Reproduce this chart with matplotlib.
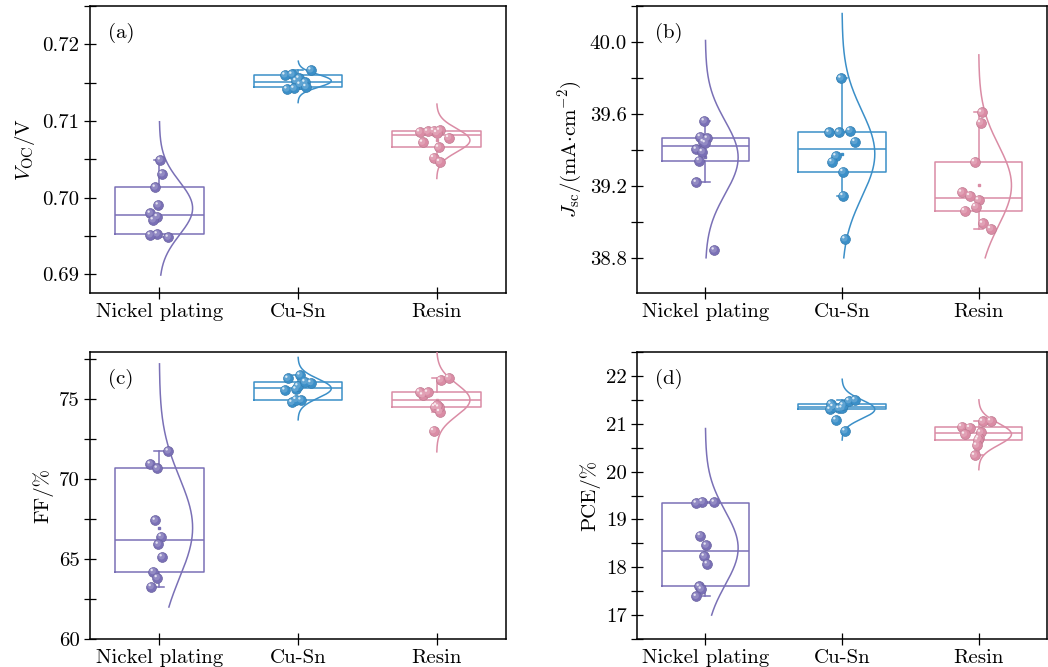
import numpy as np
import matplotlib
matplotlib.use('Agg')
import matplotlib.pyplot as plt
from matplotlib.ticker import MultipleLocator, FormatStrFormatter
from matplotlib.transforms import ScaledTranslation
import matplotlib.colors as mcolors

plt.rcParams['font.family'] = 'serif'
plt.rcParams['font.serif'] = ['cmr10', 'DejaVu Serif']
plt.rcParams['mathtext.fontset'] = 'cm'
plt.rcParams['axes.formatter.use_mathtext'] = True
plt.rcParams['axes.unicode_minus'] = False

# ---------------- data ----------------
categories = ['Nickel plating', 'Cu-Sn', 'Resin']

voc_nickel = [0.70491, 0.70309, 0.70135, 0.69904, 0.69796, 0.69752, 0.69709, 0.69526, 0.69513, 0.69483]
voc_cusn = [0.71665, 0.71609, 0.71600, 0.71557, 0.71525, 0.71505, 0.71478, 0.71448, 0.71426, 0.71417]
voc_resin = [0.70878, 0.70874, 0.70865, 0.70857, 0.70848, 0.70783, 0.70722, 0.70657, 0.70522, 0.70470]

jsc_nickel = [39.562, 39.474, 39.465, 39.446, 39.440, 39.404, 39.391, 39.341, 39.220, 38.843]
jsc_cusn = [39.800, 39.508, 39.499, 39.499, 39.447, 39.367, 39.335, 39.280, 39.146, 38.905]
jsc_resin = [39.610, 39.552, 39.334, 39.165, 39.146, 39.122, 39.085, 39.062, 38.992, 38.962]

ff_nickel = [71.75, 70.94, 70.67, 67.42, 66.40, 65.92, 65.13, 64.21, 63.83, 63.27]
ff_cusn = [74.79, 74.94, 74.97, 75.56, 75.62, 75.82, 76.02, 76.08, 76.29, 76.50]
ff_resin = [73.02, 74.21, 74.50, 74.52, 74.60, 75.25, 75.42, 75.44, 76.19, 76.33]

pce_nickel = [19.37, 19.36, 19.34, 18.66, 18.46, 18.23, 18.07, 17.60, 17.54, 17.39]
pce_cusn = [20.85, 21.08, 21.30, 21.32, 21.33, 21.36, 21.39, 21.41, 21.48, 21.50]
pce_resin = [21.06, 21.05, 20.94, 20.92, 20.82, 20.78, 20.70, 20.66, 20.55, 20.34]

# value range over which each normal curve is drawn
voc_curve = [(0.6899, 0.7099), (0.7124, 0.7178), (0.7025, 0.7122)]
jsc_curve = [(38.80, 40.01), (38.80, 40.16), (38.80, 39.93)]
ff_curve = [(62.0, 77.2), (73.7, 77.6), (71.7, 78.3)]
pce_curve = [(17.0, 20.9), (20.66, 21.93), (20.04, 21.50)]

# horizontal jitter of the points, in pixels
voc_jit = [[1, 3, -4, -1, -9, -2, -6, -2, -9, 9],
           [13, -6, -13, 1, -2, 7, 2, 8, -4, -11],
           [3, -3, -9, -17, 0, 12, -14, 2, -3, 3]]
jsc_jit = [[-1, -5, 2, -2, 0, -9, -3, -6, -9, 9],
           [-1, 8, -13, -3, 13, -6, -10, 1, 1, 3],
           [3, 2, -4, -17, -9, 0, -3, -14, 4, 12]]
ff_jit = [[9, -9, -2, -4, 2, -1, 3, -6, -2, -8],
          [-6, 3, -2, -13, -2, 0, 13, 7, -10, 2],
          [-3, 3, 2, -2, 0, -14, -9, -17, 4, 12]]
pce_jit = [[-3, 9, -9, -5, 1, -1, 2, -6, -4, -9],
           [3, -6, -12, -3, 0, -9, 1, -11, 7, 13],
           [12, 4, -17, -9, 2, -14, 0, -1, -2, -4]]

colors = ['#7A70B6', '#3B8FC8', '#DA8CA5']

W, H = 1048, 667
fig = plt.figure(figsize=(W / 100, H / 100), dpi=100)


def axes_px(l, r, t, b):
    return fig.add_axes([l / W, 1 - b / H, (r - l) / W, (b - t) / H])


def lighten(c, f):
    r, g, b = mcolors.to_rgb(c)
    return (r + (1 - r) * f, g + (1 - g) * f, b + (1 - b) * f)


def darken(c, f):
    r, g, b = mcolors.to_rgb(c)
    return (r * (1 - f), g * (1 - f), b * (1 - f))


def panel(ax, groups, curves, jits, ylim, major, minor, fmt, ylabel, letter):
    ax_w = ax.get_position().width * W
    hl = ScaledTranslation(-1.2 / 72, 1.2 / 72, fig.dpi_scale_trans)
    for i, (vals, (clo, chi), jit, col) in enumerate(zip(groups, curves, jits, colors)):
        pos = i + 1
        v = np.asarray(vals, dtype=float)
        q1, q3 = np.percentile(v, [25, 75], method='inverted_cdf')
        iqr = q3 - q1
        whislo = v[v >= q1 - 1.5 * iqr].min()
        whishi = v[v <= q3 + 1.5 * iqr].max()
        stats = dict(med=np.median(v), q1=q1, q3=q3, whislo=whislo, whishi=whishi,
                     mean=v.mean(), fliers=np.array([]))
        lp = dict(color=col, linewidth=1.1)
        ax.bxp([stats], positions=[pos], widths=0.64, showmeans=True, showfliers=False,
               boxprops=lp, medianprops=lp, whiskerprops=lp, capprops=lp,
               meanprops=dict(marker='s', markersize=2, markerfacecolor=col,
                              markeredgecolor=col),
               capwidths=0.07, manage_ticks=False, zorder=2)
        # normal distribution curve
        yy = np.linspace(clo, chi, 400)
        sd = v.std(ddof=1)
        pdf = np.exp(-0.5 * ((yy - v.mean()) / sd) ** 2)
        ax.plot(pos + 0.24 * pdf, yy, color=col, lw=1.1, zorder=3)
        # points (shaded spheres)
        xs = pos + np.asarray(jit) * 3.0 / ax_w
        ax.scatter(xs, v, s=50, color=col, edgecolors=darken(col, 0.12),
                   linewidths=0.5, zorder=5)
        ax.scatter(xs, v, s=22, color=lighten(col, 0.18), edgecolors='none',
                   zorder=6, transform=ax.transData + ScaledTranslation(
                       -0.5 / 72, 0.5 / 72, fig.dpi_scale_trans))
        ax.scatter(xs, v, s=3, color=lighten(col, 0.8), edgecolors='none',
                   zorder=7, transform=ax.transData + hl)
    ax.set_xlim(0.5, 3.5)
    ax.set_ylim(*ylim)
    ax.set_xticks([1, 2, 3])
    ax.set_xticklabels(categories)
    ax.yaxis.set_major_locator(MultipleLocator(major))
    ax.yaxis.set_minor_locator(MultipleLocator(minor))
    ax.yaxis.set_major_formatter(FormatStrFormatter(fmt))
    ax.tick_params(axis='both', which='both', direction='inout', labelsize=15,
                   top=False, right=False, width=0.9, pad=3)
    ax.tick_params(axis='y', which='both', length=9)
    ax.tick_params(axis='x', which='major', length=9)
    for s in ax.spines.values():
        s.set_linewidth(1.1)
    ax.set_ylabel(ylabel, fontsize=15)
    ax.text(0.043, 0.905, letter, transform=ax.transAxes, fontsize=15,
            ha='left', va='center')


ax_a = axes_px(90, 506, 6, 293)
ax_b = axes_px(637, 1047, 6, 293)
ax_c = axes_px(90, 506, 352, 639)
ax_d = axes_px(637, 1047, 352, 639)

panel(ax_a, [voc_nickel, voc_cusn, voc_resin], voc_curve, voc_jit,
      (0.68756, 0.7250), 0.01, 0.005, '%.2f', r'$V_{\rm OC}$/V', '(a)')
panel(ax_b, [jsc_nickel, jsc_cusn, jsc_resin], jsc_curve, jsc_jit,
      (38.604, 40.202), 0.4, 0.2, '%.1f',
      r'$J_{\rm sc}/({\rm mA{\cdot}cm^{-2}})$', '(b)')
panel(ax_c, [ff_nickel, ff_cusn, ff_resin], ff_curve, ff_jit,
      (60.0, 77.94), 5, 2.5, '%d', 'FF/%', '(c)')
panel(ax_d, [pce_nickel, pce_cusn, pce_resin], pce_curve, pce_jit,
      (16.5, 22.5), 1, 0.5, '%d', 'PCE/%', '(d)')

fig.savefig('out.png', dpi=100)
